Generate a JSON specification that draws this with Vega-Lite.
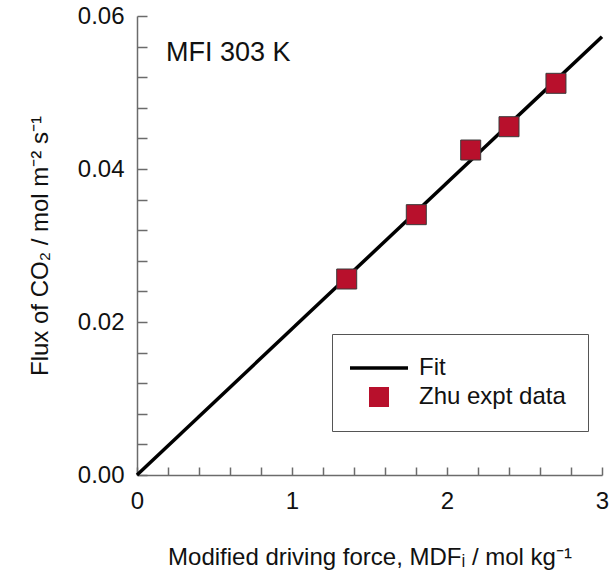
{
  "$schema": "https://vega.github.io/schema/vega-lite/v6.json",
  "width": 465,
  "height": 459,
  "autosize": {"type": "none"},
  "padding": {"left": 137, "top": 16, "right": 11, "bottom": 98},
  "background": "white",
  "config": {
    "font": "Liberation Sans",
    "view": {"stroke": null},
    "axis": {
      "grid": false,
      "domainColor": "#6b6b6b",
      "domainWidth": 1.5,
      "tickColor": "#6b6b6b",
      "tickWidth": 1.5,
      "tickCount": 20,
      "labelColor": "#111111",
      "labelFontSize": 24,
      "labelOverlap": false,
      "titleColor": "#111111",
      "titleFontSize": 24,
      "titleFontWeight": "normal"
    }
  },
  "datasets": {
    "fit": [
      {"mdf": 0, "flux": 0},
      {"mdf": 3, "flux": 0.0573}
    ],
    "expt": [
      {"mdf": 1.353, "flux": 0.02562, "series": "Zhu expt data"},
      {"mdf": 1.802, "flux": 0.03403, "series": "Zhu expt data"},
      {"mdf": 2.153, "flux": 0.04248, "series": "Zhu expt data"},
      {"mdf": 2.4, "flux": 0.04553, "series": "Zhu expt data"},
      {"mdf": 2.703, "flux": 0.0512, "series": "Zhu expt data"}
    ],
    "note": [
      {"label": "MFI 303 K"}
    ]
  },
  "layer": [
    {
      "data": {"name": "fit"},
      "mark": {"type": "line", "color": "#000000", "strokeWidth": 3.5},
      "encoding": {
        "x": {
          "field": "mdf",
          "type": "quantitative",
          "scale": {"domain": [0, 3], "nice": false},
          "axis": {
            "values": [0, 0.2, 0.4, 0.6, 0.8, 1, 1.2, 1.4, 1.6, 1.8, 2, 2.2, 2.4, 2.6, 2.8, 3],
            "labelExpr": "round(datum.value * 10) % 10 === 0 ? format(datum.value, 'd') : ''",
            "tickCount": 20,
            "tickSize": -8,
            "labelPadding": 22,
            "labelFlush": false,
            "title": "Modified driving force, MDFᵢ / mol kg⁻¹",
            "titlePadding": 32
          }
        },
        "y": {
          "field": "flux",
          "type": "quantitative",
          "scale": {"domain": [0, 0.06], "nice": false},
          "axis": {
            "values": [0, 0.004, 0.008, 0.012, 0.016, 0.02, 0.024, 0.028, 0.032, 0.036, 0.04, 0.044, 0.048, 0.052, 0.056, 0.06],
            "labelExpr": "round(datum.value * 1000) % 20 === 0 ? format(datum.value, '.2f') : ''",
            "tickCount": 20,
            "tickSize": -10,
            "labelPadding": 23,
            "labelFlush": false,
            "title": "Flux of CO₂ / mol m⁻² s⁻¹",
            "titlePadding": 25
          }
        }
      }
    },
    {
      "data": {"name": "expt"},
      "mark": {
        "type": "point",
        "filled": true,
        "size": 400,
        "opacity": 1,
        "stroke": "#3a3a3a",
        "strokeWidth": 1
      },
      "encoding": {
        "x": {"field": "mdf", "type": "quantitative"},
        "y": {"field": "flux", "type": "quantitative"},
        "color": {
          "field": "series",
          "type": "nominal",
          "scale": {"domain": ["Fit", "Zhu expt data"], "range": ["#000000", "#b8102c"]},
          "legend": {
            "title": null,
            "orient": "none",
            "legendX": 195,
            "legendY": 318,
            "padding": 22,
            "strokeColor": "#555555",
            "fillColor": "white",
            "labelFontSize": 24,
            "labelColor": "#111111",
            "labelOffset": 28,
            "symbolSize": 400,
            "symbolOffset": 13,
            "symbolOpacity": 1,
            "symbolStrokeWidth": 1,
            "symbolStrokeColor": "#3a3a3a",
            "rowPadding": 5
          }
        },
        "shape": {
          "field": "series",
          "type": "nominal",
          "scale": {"domain": ["Fit", "Zhu expt data"], "range": ["M-2.9,-0.18H2.9V0.18H-2.9Z", "square"]},
          "legend": {
            "title": null,
            "orient": "none",
            "legendX": 195,
            "legendY": 318,
            "padding": 22,
            "strokeColor": "#555555",
            "fillColor": "white",
            "labelFontSize": 24,
            "labelColor": "#111111",
            "labelOffset": 28,
            "symbolSize": 400,
            "symbolOffset": 13,
            "symbolOpacity": 1,
            "symbolStrokeWidth": 1,
            "symbolStrokeColor": "#3a3a3a",
            "rowPadding": 5
          }
        }
      }
    },
    {
      "data": {"name": "note"},
      "mark": {"type": "text", "fontSize": 27, "align": "left", "baseline": "middle", "color": "#111111"},
      "encoding": {
        "text": {"field": "label", "type": "nominal"},
        "x": {"datum": 0.187, "type": "quantitative"},
        "y": {"datum": 0.0552, "type": "quantitative"}
      }
    }
  ]
}
